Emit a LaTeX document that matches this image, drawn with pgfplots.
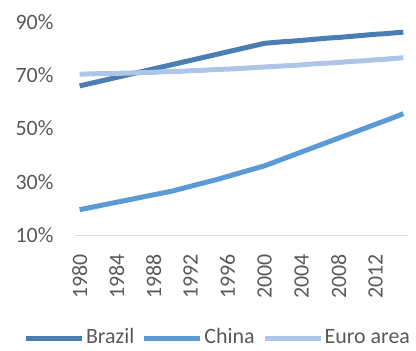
\documentclass[border=0pt]{standalone}
\usepackage{pgfplots}
\pgfplotsset{compat=1.18}
\usepackage{fontspec}
\setmainfont{Carlito}
\definecolor{cBrazil}{HTML}{4A7DB2}
\definecolor{cChina}{HTML}{5B9BD5}
\definecolor{cEuro}{HTML}{ADC5E6}
\definecolor{txt}{HTML}{595959}
\pgfplotstableread{
year Brazil China Euro
1980 66.0 19.5 70.4
1981 66.8 20.2 70.5
1982 67.6 20.9 70.6
1983 68.4 21.6 70.6
1984 69.2 22.3 70.7
1985 70.0 23.0 70.8
1986 70.8 23.7 70.9
1987 71.6 24.4 71.0
1988 72.4 25.1 71.1
1989 73.2 25.8 71.3
1990 74.0 26.5 71.4
1991 74.8 27.4 71.5
1992 75.6 28.3 71.7
1993 76.4 29.2 71.8
1994 77.2 30.1 72.0
1995 78.0 31.0 72.2
1996 78.8 32.0 72.3
1997 79.6 33.0 72.5
1998 80.4 34.0 72.7
1999 81.2 35.0 72.9
2000 82.0 36.0 73.1
2001 82.3 37.3 73.3
2002 82.6 38.6 73.5
2003 82.8 39.9 73.7
2004 83.1 41.2 73.9
2005 83.4 42.5 74.2
2006 83.7 43.8 74.4
2007 84.0 45.1 74.6
2008 84.2 46.4 74.8
2009 84.5 47.7 75.1
2010 84.8 49.0 75.3
2011 85.1 50.3 75.5
2012 85.4 51.6 75.8
2013 85.6 52.9 76.0
2014 85.9 54.2 76.3
2015 86.2 55.6 76.6
}\datatable
\begin{document}
\begin{tikzpicture}
\fontsize{22}{26}\selectfont
\begin{axis}[
  name=ax,
  scale only axis,
  width=333bp, height=213bp,
  xmin=1979.5, xmax=2015.5,
  ymin=10, ymax=90,
  ytick={10,30,50,70,90},
  yticklabel={\pgfmathprintnumber{\tick}\%},
  xtick={1980,1984,...,2012},
  x tick label style={/pgf/number format/1000 sep={}},
  xticklabel style={rotate=90, anchor=east, xshift=-12bp},
  /pgf/number format/assume math mode=true,
  tick label style={font=\fontsize{22}{26}\selectfont, text=txt},
  yticklabel style={anchor=east, xshift=-14bp},
  axis y line*=left,
  y axis line style={draw=none},
  axis x line*=bottom,
  x axis line style={draw=black!15, line width=1bp, -},
  major tick length=0pt,
  tick style={draw=none},
  clip=false,
  legend columns=3,
  legend style={draw=none, fill=none, at={(0.5,0)}, anchor=center, xshift=-24bp, yshift=-103bp,
    font=\fontsize{22}{26}\selectfont, text=txt,
    /tikz/every odd column/.append style={column sep=0bp},
    /tikz/every even column/.append style={column sep=6bp},
    nodes={inner xsep=1.5bp, inner ysep=1bp}},
  legend image code/.code={\draw[#1, line width=5bp] (0bp,0bp) -- (56bp,0bp);},
]
\addplot[cBrazil, line width=5bp] table[x=year, y=Brazil] {\datatable};
\addplot[cChina, line width=5bp] table[x=year, y=China] {\datatable};
\addplot[cEuro, line width=5bp] table[x=year, y=Euro] {\datatable};
\legend{Brazil, China, Euro area}
\end{axis}
\path (ax.south west) ++(-75bp,-116bp) rectangle ++(416bp,351bp);
\end{tikzpicture}
\end{document}
